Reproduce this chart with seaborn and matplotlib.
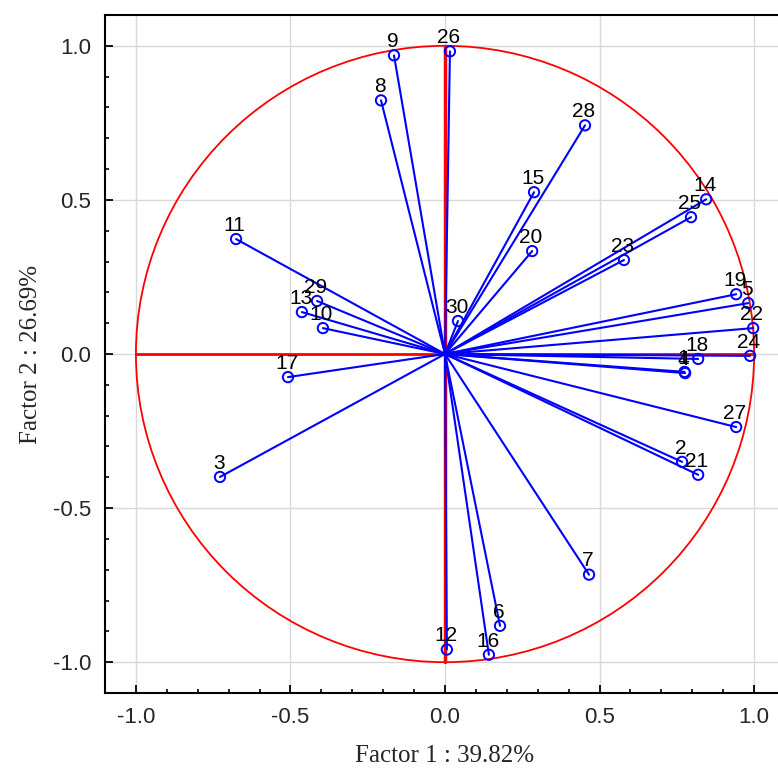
import numpy as np
import pandas as pd
import matplotlib
matplotlib.use("Agg")
import matplotlib.pyplot as plt
from matplotlib.patches import Circle
from matplotlib.ticker import MultipleLocator
import seaborn as sns

sns.set_theme(style="white")

# variable loadings on factor 1 / factor 2
labels = [str(i) for i in range(1, 31)]
f1 = [0.775, 0.767, -0.728, 0.777, 0.981, 0.178, 0.466, -0.207, -0.165, -0.395,
      -0.676, 0.006, -0.463, 0.845, 0.288, 0.142, -0.508, 0.819, 0.942, 0.282,
      0.819, 0.997, 0.579, 0.987, 0.796, 0.016, 0.942, 0.453, -0.414, 0.042]
f2 = [-0.058, -0.350, -0.399, -0.062, 0.165, -0.882, -0.716, 0.823, 0.969, 0.084,
      0.373, -0.959, 0.136, 0.502, 0.525, -0.976, -0.075, -0.016, 0.194, 0.334,
      -0.392, 0.084, 0.305, -0.006, 0.444, 0.982, -0.237, 0.742, 0.172, 0.107]

pts = pd.DataFrame({"var": labels, "f1": f1, "f2": f2})
rays = pd.concat([
    pd.DataFrame({"var": labels, "f1": 0.0, "f2": 0.0, "step": 0}),
    pts.assign(step=1),
]).sort_values(["var", "step"])

fig = plt.figure(figsize=(7.78, 7.76), dpi=100)
ax = fig.add_axes([105 / 778, 83 / 776, 680 / 778, 678 / 776])

ax.grid(True, which="major", color="#d9d9d9", linewidth=1)
ax.set_axisbelow(True)

# unit circle and red axes
ax.add_patch(Circle((0, 0), 1.0, fill=False, edgecolor="red", linewidth=1.3, zorder=2))
ax.plot([-1, 1], [0, 0], color="red", linewidth=2, zorder=2)
ax.plot([0, 0], [-1, 1], color="red", linewidth=2.5, zorder=2)

sns.lineplot(data=rays, x="f1", y="f2", units="var", estimator=None, sort=False,
             color="blue", linewidth=1.5, ax=ax, zorder=3)
sns.scatterplot(data=pts, x="f1", y="f2", marker="o", s=55, facecolor="none",
                edgecolor="blue", linewidth=1.4, ax=ax, zorder=4)

for lab, x, y in zip(labels, f1, f2):
    ax.annotate(lab, (x, y), xytext=(-1, 3), textcoords="offset points",
                ha="center", va="bottom", fontsize=15, color="black",
                family="Liberation Sans", zorder=5)

ax.set_xlim(-1.1, 1.1)
ax.set_ylim(-1.1, 1.1)
ax.xaxis.set_major_locator(MultipleLocator(0.5))
ax.yaxis.set_major_locator(MultipleLocator(0.5))
ax.xaxis.set_minor_locator(MultipleLocator(0.1))
ax.yaxis.set_minor_locator(MultipleLocator(0.1))
ax.xaxis.set_major_formatter(matplotlib.ticker.FormatStrFormatter("%.1f"))
ax.yaxis.set_major_formatter(matplotlib.ticker.FormatStrFormatter("%.1f"))
ax.tick_params(which="major", direction="in", length=6, width=1.3, color="black",
               labelsize=16, pad=10, bottom=True, left=True)
ax.tick_params(which="minor", direction="in", length=3, width=1.2, color="black",
               bottom=True, left=True)
for lbl in ax.get_xticklabels() + ax.get_yticklabels():
    lbl.set_family("Liberation Sans")

for sp in ax.spines.values():
    sp.set_color("black")
    sp.set_linewidth(1.5)

ax.set_xlabel("Factor 1 : 39.82%", fontsize=18, family="Liberation Serif", labelpad=12)
ax.set_ylabel("Factor 2 : 26.69%", fontsize=18, family="Liberation Serif", labelpad=8)

fig.savefig("out.png", dpi=100)
